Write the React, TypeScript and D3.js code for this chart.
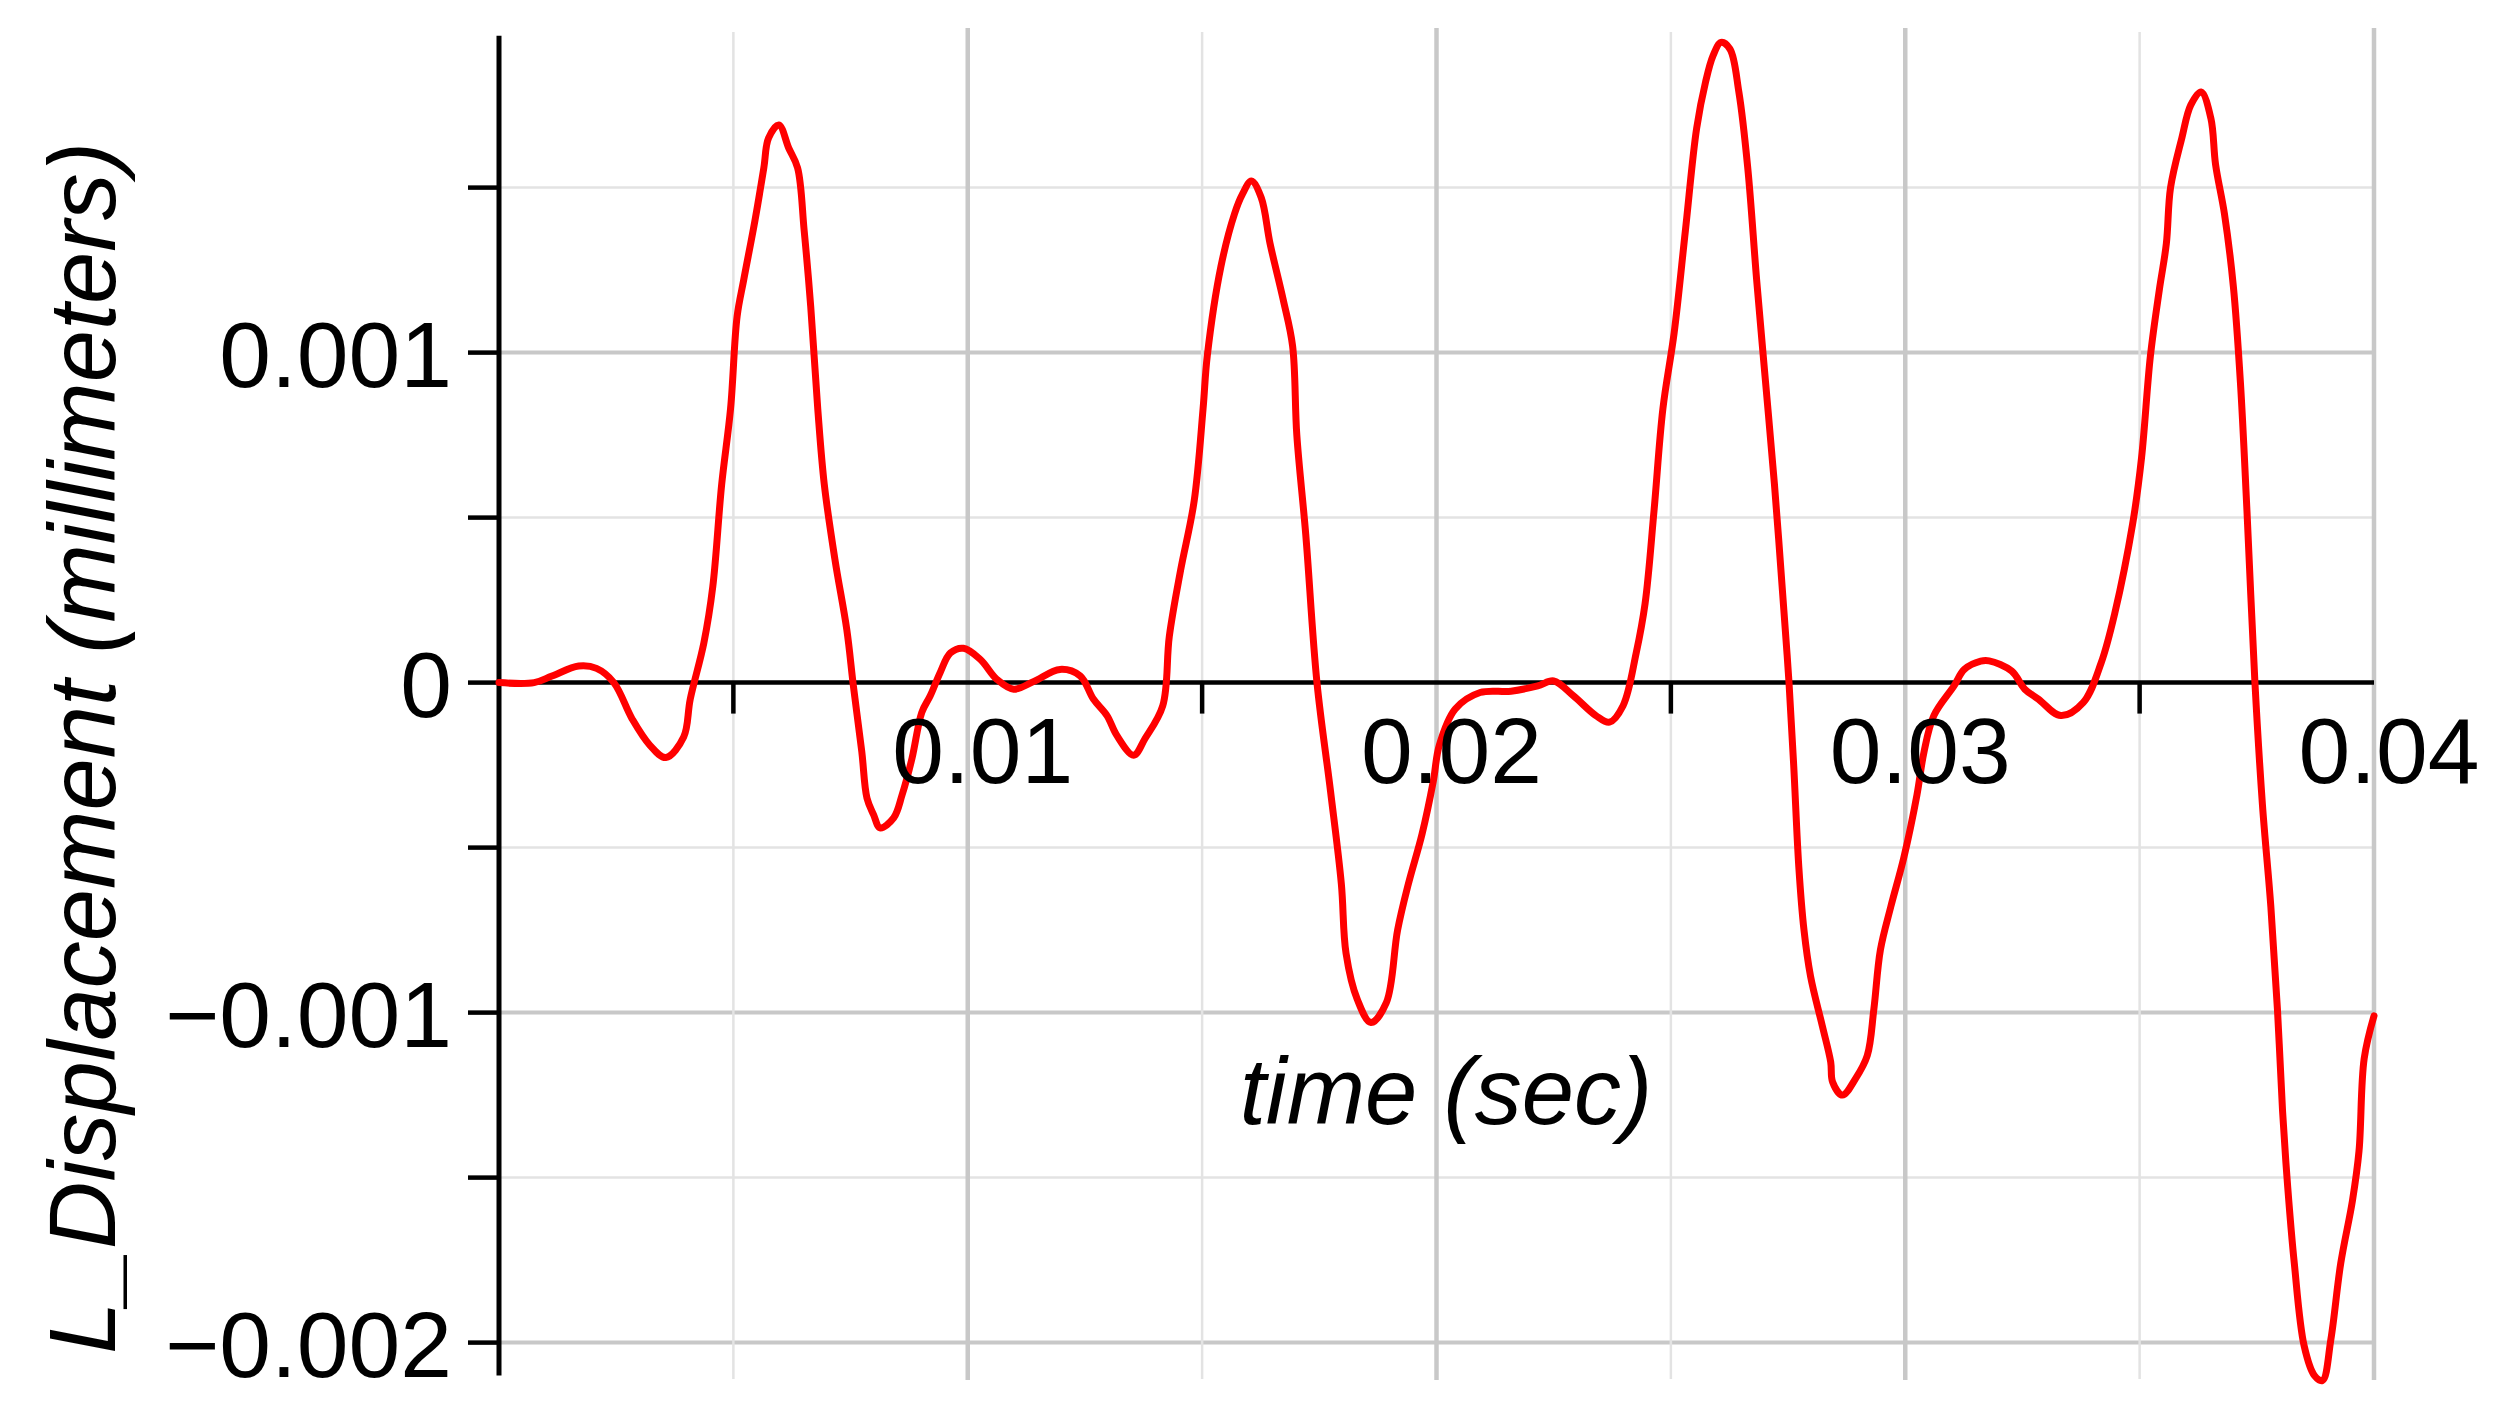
import React, { useRef, useEffect } from "react";
import * as d3 from "d3";

// time (sec)
const timeValues = [
  0, 0.00075, 0.00113, 0.0017, 0.00208, 0.00245, 0.00284, 0.00322, 0.00356, 0.00394,
  0.00408, 0.00437, 0.00456, 0.00475, 0.00494, 0.00508, 0.00522, 0.00546, 0.00565, 0.00575,
  0.00597, 0.00618, 0.00637, 0.00651, 0.00665, 0.0068, 0.00694, 0.00717, 0.00742, 0.00756,
  0.00774, 0.00785, 0.00799, 0.00813, 0.00842, 0.0086, 0.00881, 0.00902, 0.0092, 0.00941,
  0.00963, 0.00991, 0.01027, 0.01062, 0.01098, 0.0114, 0.01197, 0.0124, 0.01268, 0.01297,
  0.01318, 0.01354, 0.01378, 0.01416, 0.0143, 0.01454, 0.01483, 0.01502, 0.01511, 0.0154,
  0.01569, 0.01586, 0.01605, 0.01626, 0.01645, 0.01673, 0.01693, 0.01702, 0.01721, 0.01745,
  0.01774, 0.01797, 0.01807, 0.01831, 0.0186, 0.01893, 0.01917, 0.0194, 0.01969, 0.01993,
  0.02006, 0.0204, 0.02093, 0.02159, 0.02216, 0.0225, 0.02292, 0.0234, 0.02369, 0.02398,
  0.02426, 0.02445, 0.02464, 0.02483, 0.02507, 0.02531, 0.02555, 0.02574, 0.0259, 0.02607,
  0.02626, 0.02645, 0.02664, 0.02683, 0.02702, 0.02721, 0.02741, 0.02752, 0.02762, 0.02773,
  0.02784, 0.02798, 0.02823, 0.02841, 0.02845, 0.02866, 0.02894, 0.02919, 0.02933, 0.02947,
  0.02969, 0.02997, 0.03025, 0.0304, 0.03061, 0.03104, 0.03126, 0.03161, 0.03179, 0.03227,
  0.03255, 0.03284, 0.03332, 0.0338, 0.03418, 0.03447, 0.03485, 0.03504, 0.03523, 0.03542,
  0.03557, 0.03566, 0.0359, 0.03609, 0.03631, 0.03652, 0.03662, 0.03681, 0.037, 0.03715,
  0.03729, 0.03746, 0.03762, 0.0378, 0.03794, 0.03805, 0.03816, 0.0383, 0.03851, 0.03873,
  0.0389, 0.03908, 0.03929, 0.03954, 0.03968, 0.03979, 0.04,
];

// L_Displacement (millimeters)
const displacementValues = [
  0, 0, 0.00002, 0.00005, 0.000043, 0, -0.00011, -0.00019, -0.000227, -0.000165,
  -0.00005, 0.00012, 0.00029, 0.0006, 0.00083, 0.00111, 0.00122, 0.0014, 0.00156, 0.00165,
  0.00169, 0.00162, 0.00156, 0.00137, 0.00114, 0.00083, 0.0006, 0.00037, 0.00016, -0.00001,
  -0.00021, -0.00035, -0.0004, -0.00044, -0.00041, -0.00034, -0.00023, -0.00009, -0.00004, 0.00003,
  0.00009, 0.000104, 0.00007, 0.00001, -0.00002, 0.000003, 0.00004, 0.00002, -0.00005, -0.0001,
  -0.00016, -0.00022, -0.00017, -0.00007, 0.00014, 0.00034, 0.00055, 0.00083, 0.00099, 0.00126,
  0.00142, 0.00148, 0.00152, 0.00147, 0.00133, 0.00116, 0.00102, 0.00075, 0.00045, 0,
  -0.00033, -0.00061, -0.00082, -0.00096, -0.00103, -0.00097, -0.00075, -0.00061, -0.00046, -0.0003,
  -0.00019, -0.00008, -0.00003, -0.000026, -0.00001, 0.000005, -0.00004, -0.0001, -0.00012, -0.00007,
  0.00009, 0.00024, 0.00052, 0.00083, 0.00106, 0.00137, 0.00168, 0.00182, 0.0019, 0.00194,
  0.00192, 0.00179, 0.00156, 0.00122, 0.00091, 0.0006, 0.00022, 0, -0.00025, -0.00056,
  -0.00075, -0.00089, -0.00104, -0.00115, -0.00121, -0.00125, -0.0012, -0.00113, -0.00099, -0.00081,
  -0.00068, -0.00053, -0.00034, -0.00021, -0.0001, -0.00001, 0.00004, 0.000065, 0.000066, 0.000035,
  -0.00002, -0.00005, -0.0001, -0.00006, 0.00006, 0.00021, 0.00048, 0.00068, 0.00099, 0.00119,
  0.00133, 0.0015, 0.00165, 0.00175, 0.00179, 0.00171, 0.00157, 0.00142, 0.0012, 0.00091,
  0.00052, 0, -0.00037, -0.00068, -0.00099, -0.0013, -0.00153, -0.00176, -0.00201, -0.0021,
  -0.002115, -0.00199, -0.00176, -0.00157, -0.00142, -0.00114, -0.00101,
];

const xMajorTicks = [0.01, 0.02, 0.03, 0.04];
const xMinorTicks = [0.005, 0.015, 0.025, 0.035];
const xTickLabels = ["0.01", "0.02", "0.03", "0.04"];
const yMajorTicks = [0.001, 0, -0.001, -0.002];
const yMinorTicks = [0.0015, 0.0005, -0.0005, -0.0015];
const yTickLabels = ["0.001", "0", "\u22120.001", "\u22120.002"];

const App = () => {
  const svgRef = useRef<SVGSVGElement>(null);

  useEffect(() => {
    const svg = d3.select(svgRef.current);
    svg.selectAll("*").remove();

    const width = 2503,
      height = 1422,
      left = 499,
      right = 2374,
      font = "'Liberation Sans', Arial, Helvetica, sans-serif";

    const x = d3.scaleLinear().domain([0, 0.04]).range([left, right]);
    const y = d3.scaleLinear().domain([-0.002, 0.0015]).range([1342.6, 187.6]);

    svg.attr("width", width).attr("height", height);
    svg.append("rect").attr("width", width).attr("height", height).attr("fill", "#fff");

    const grid = svg.append("g");
    // horizontal grid
    grid
      .selectAll(".hminor")
      .data(yMinorTicks)
      .enter()
      .append("line")
      .attr("x1", left)
      .attr("x2", right)
      .attr("y1", (d) => y(d))
      .attr("y2", (d) => y(d))
      .attr("stroke", "#e3e3e3")
      .attr("stroke-width", 2.5);
    grid
      .selectAll(".hmajor")
      .data(yMajorTicks.filter((d) => d !== 0))
      .enter()
      .append("line")
      .attr("x1", left)
      .attr("x2", right)
      .attr("y1", (d) => y(d))
      .attr("y2", (d) => y(d))
      .attr("stroke", "#c8c8c8")
      .attr("stroke-width", 4);
    // vertical grid
    grid
      .selectAll(".vminor")
      .data(xMinorTicks)
      .enter()
      .append("line")
      .attr("x1", (d) => x(d))
      .attr("x2", (d) => x(d))
      .attr("y1", 32)
      .attr("y2", 1379)
      .attr("stroke", "#e3e3e3")
      .attr("stroke-width", 2.5);
    grid
      .selectAll(".vmajor")
      .data(xMajorTicks)
      .enter()
      .append("line")
      .attr("x1", (d) => x(d))
      .attr("x2", (d) => x(d))
      .attr("y1", 28)
      .attr("y2", 1380)
      .attr("stroke", "#c8c8c8")
      .attr("stroke-width", 4.5);

    // axes
    svg
      .append("line")
      .attr("x1", left)
      .attr("x2", right)
      .attr("y1", y(0))
      .attr("y2", y(0))
      .attr("stroke", "#000")
      .attr("stroke-width", 4.5);
    svg
      .append("line")
      .attr("x1", left)
      .attr("x2", left)
      .attr("y1", y(0.00196))
      .attr("y2", y(-0.0021))
      .attr("stroke", "#000")
      .attr("stroke-width", 5);

    // y ticks
    svg
      .selectAll(".ytick")
      .data([...yMajorTicks, ...yMinorTicks])
      .enter()
      .append("line")
      .attr("x1", left - 31)
      .attr("x2", left)
      .attr("y1", (d) => y(d))
      .attr("y2", (d) => y(d))
      .attr("stroke", "#000")
      .attr("stroke-width", 4.5);
    // x ticks (minor, below axis)
    svg
      .selectAll(".xtick")
      .data(xMinorTicks)
      .enter()
      .append("line")
      .attr("x1", (d) => x(d))
      .attr("x2", (d) => x(d))
      .attr("y1", y(0))
      .attr("y2", y(0) + 31)
      .attr("stroke", "#000")
      .attr("stroke-width", 4.5);

    // curve
    const line = d3
      .line<number>()
      .x((d, i) => x(timeValues[i]))
      .y((d) => y(d))
      .curve(d3.curveCatmullRom.alpha(0.5));
    svg
      .append("path")
      .datum(displacementValues)
      .attr("d", line)
      .attr("fill", "none")
      .attr("stroke", "#ff0000")
      .attr("stroke-width", 7)
      .attr("stroke-linejoin", "round")
      .attr("stroke-linecap", "round");

    // tick labels
    svg
      .selectAll(".ylabel")
      .data(yMajorTicks)
      .enter()
      .append("text")
      .attr("x", 452)
      .attr("y", (d) => y(d) + 34)
      .attr("text-anchor", "end")
      .style("font-family", font)
      .style("font-size", "93px")
      .text((d, i) => yTickLabels[i]);
    svg
      .selectAll(".xlabel")
      .data(xMajorTicks)
      .enter()
      .append("text")
      .attr("x", (d) => x(d) + 15)
      .attr("y", 783)
      .attr("text-anchor", "middle")
      .style("font-family", font)
      .style("font-size", "93px")
      .text((d, i) => xTickLabels[i]);

    // axis titles
    svg
      .append("text")
      .attr("x", 1446)
      .attr("y", 1124)
      .attr("text-anchor", "middle")
      .style("font-family", font)
      .style("font-style", "italic")
      .style("font-size", "94px")
      .text("time (sec)");
    svg
      .append("text")
      .attr("transform", "translate(115,748) rotate(-90)")
      .attr("text-anchor", "middle")
      .style("font-family", font)
      .style("font-style", "italic")
      .style("font-size", "94px")
      .text("L_Displacement (millimeters)");
  }, []);

  return (
    <svg
      ref={svgRef}
      style={{ position: "absolute", left: 0, top: 0, display: "block" }}
    ></svg>
  );
};

export default App;
